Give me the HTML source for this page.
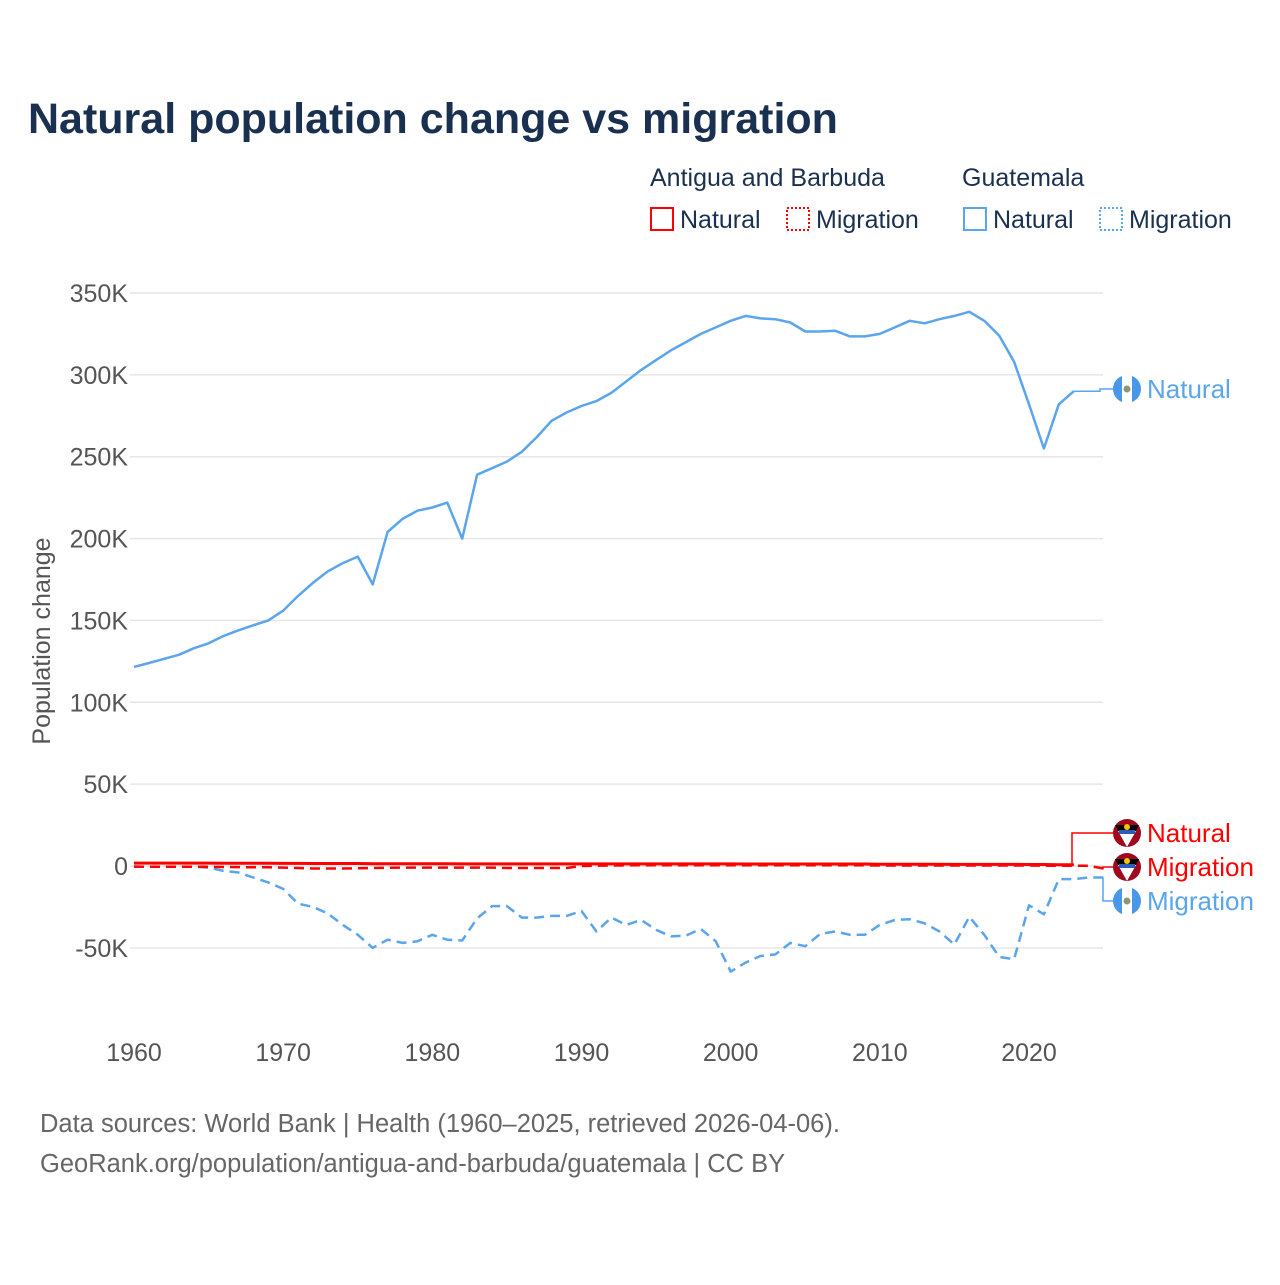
<!DOCTYPE html>
<html><head><meta charset="utf-8"><style>
body{margin:0;background:#fff;}
svg text{font-family:"Liberation Sans",sans-serif;}
</style></head><body>
<svg width="1280" height="1280" viewBox="0 0 1280 1280" xmlns="http://www.w3.org/2000/svg">
<text x="28" y="133" font-size="43" font-weight="bold" fill="#1a3050">Natural population change vs migration</text>
<g font-size="25" fill="#1a3050">
<text x="650" y="186">Antigua and Barbuda</text>
<text x="962" y="186">Guatemala</text>
<g><rect x="651" y="208" width="22" height="22" fill="none" stroke="#f00" stroke-width="2"/><text x="680" y="228">Natural</text></g>
<g><rect x="787" y="208" width="22" height="22" fill="none" stroke="#f00" stroke-width="2" stroke-dasharray="2,2"/><text x="816" y="228">Migration</text></g>
<g><rect x="964" y="208" width="22" height="22" fill="none" stroke="#5aa5ec" stroke-width="2"/><text x="993" y="228">Natural</text></g>
<g><rect x="1100" y="208" width="22" height="22" fill="none" stroke="#5aa5ec" stroke-width="2" stroke-dasharray="2,2"/><text x="1129" y="228">Migration</text></g>
</g>
<g id="grid"></g>
<g id="yticks" font-size="25" fill="#555" text-anchor="end"></g>
<g id="xticks" font-size="25" fill="#555" text-anchor="middle"></g>
<text transform="translate(50,641) rotate(-90)" font-size="25" fill="#555" text-anchor="middle">Population change</text>
<g id="series"></g>
<g id="labels"></g>
<text x="40" y="1132" font-size="25.5" fill="#666">Data sources: World Bank | Health (1960–2025, retrieved 2026-04-06).</text>
<text x="40" y="1172" font-size="25.5" fill="#666">GeoRank.org/population/antigua-and-barbuda/guatemala | CC BY</text>
</svg>
<script>
const years=[];for(let y=1960;y<=2025;y++)years.push(y);
const yTicks=[-50,0,50,100,150,200,250,300,350];
const yTickLabels=["-50K","0","50K","100K","150K","200K","250K","300K","350K"];
const xTicks=[1960,1970,1980,1990,2000,2010,2020];
const gtmNatural=[121.6,124,126.5,129,133,136,140.5,144,147,150,156,165,173,180,185,189,172,204,212,217,219,222,200,239,243,247,253,262,272,277,281,284,289,296,303,309,315,320,325,329,333,336,334.5,334,332,326.5,326.5,327,323.5,323.5,325,329,333,331.5,334,336,338.5,333,324,308,282,255,282,290];
const gtmMigration=[-0.5,-0.5,-0.5,-0.5,-0.5,-1,-3,-4,-7,-10,-14,-23,-25,-29,-36,-42,-50,-45,-47,-46,-42,-45,-45.5,-32,-24.5,-24.5,-31.5,-31.5,-30.5,-30.5,-27.5,-40,-31.5,-36,-33,-39,-43,-42.5,-38.5,-46,-64.5,-59,-55,-54,-47,-49,-41.5,-40,-42,-42,-36,-33,-32.5,-35,-40,-48,-31,-42,-55.5,-57,-24,-29.5,-8,-8,-7,-7];
const atgNatural=[1.8,1.8,1.8,1.8,1.8,1.8,1.7,1.7,1.7,1.7,1.6,1.6,1.5,1.5,1.5,1.5,1.4,1.4,1.4,1.4,1.4,1.4,1.3,1.3,1.3,1.3,1.3,1.3,1.3,1.3,1.3,1.3,1.3,1.3,1.3,1.3,1.3,1.3,1.3,1.3,1.3,1.2,1.2,1.2,1.2,1.2,1.2,1.2,1.2,1.2,1.1,1.1,1.1,1.1,1.1,1.0,1.0,1.0,1.0,1.0,0.9,0.9,0.8,0.8];
const atgMigration=[-0.3,-0.5,-0.5,-0.5,-0.5,-0.5,-0.6,-0.7,-0.8,-0.8,-1,-1.2,-1.5,-1.5,-1.5,-1.4,-1.2,-1.1,-1,-1,-1,-1,-1,-1,-1,-1.2,-1.2,-1.2,-1.2,-1.2,0,0.2,0.3,0.4,0.5,0.5,0.5,0.5,0.5,0.5,0.5,0.5,0.4,0.4,0.4,0.4,0.4,0.4,0.4,0.4,0.3,0.3,0.3,0.3,0.3,0.3,0.3,0.3,0.3,0.3,0.3,0.2,0.2,0.2,0.1,-1.5];
const NS="http://www.w3.org/2000/svg";
const X0=134,X1=1029,Y0=866,Y350=293;
const xs=y=>X0+(y-1960)*(X1-X0)/60;
const ys=v=>Y0-(v)*(Y0-Y350)/350;
function mk(t,a,p){const e=document.createElementNS(NS,t);for(const k in a)e.setAttribute(k,a[k]);p.appendChild(e);return e;}
const grid=document.getElementById('grid'),yt=document.getElementById('yticks'),xt=document.getElementById('xticks');
yTicks.forEach((v,i)=>{
 const l=mk('line',{x1:130,x2:1103,y1:ys(v),y2:ys(v),stroke:'#e6e6e6','stroke-width':1.5},grid);
 
 
 const t=mk('text',{x:128,y:ys(v)+9},yt);t.textContent=yTickLabels[i];
 
 
});
xTicks.forEach(v=>{const t=mk('text',{x:xs(v),y:1061},xt);t.textContent=v;
 
 });
const ser=document.getElementById('series');
function line(arr,color,dash,name,w){
 const d=arr.map((v,i)=>(i?'L':'M')+xs(years[i]).toFixed(1)+','+ys(v).toFixed(1)).join('');
 const p=mk('path',{d:d,fill:'none',stroke:color,'stroke-width':w,'stroke-linejoin':'round'},ser);
 if(dash)p.setAttribute('stroke-dasharray',dash);
 
 
 return p;
}
line(gtmMigration,'#5aa5ec','10,6','line-guatemala-migration',2.5);
line(gtmNatural,'#5aa5ec',null,'line-guatemala-natural',2.5);
line(atgMigration,'#f00','10,6','line-antigua-migration',2.5);
line(atgNatural,'#f00',null,'line-antigua-natural',3);
const lab=document.getElementById('labels');
function endLabel(lastX,lastY,stepX,ly,color,text,flag,name){
 const c=mk('path',{d:`M${lastX},${lastY}H${stepX}V${ly}H1113`,fill:'none',stroke:color,'stroke-width':1.5},lab);
 
 
 const g=mk('g',{},lab);
 
 
 if(flag==='gt'){
  mk('circle',{cx:1127,cy:ly,r:14,fill:'#4997e8'},g);
  mk('rect',{x:1122,y:ly-14,width:10,height:28,fill:'#fff'},g);
  mk('circle',{cx:1127,cy:ly,r:3.5,fill:'#8a9a70'},g);
 }else{
  mk('circle',{cx:1127,cy:ly,r:14,fill:'#a0081e'},g);
  mk('path',{d:`M1115,${ly-8}L1139,${ly-8}L1127,${ly+14}Z`,fill:'#000'},g);
  mk('path',{d:`M1118,${ly-2}L1136,${ly-2}L1127,${ly+14}Z`,fill:'#fff'},g);
  mk('rect',{x:1119,y:ly-3,width:16,height:4,fill:'#2a5cc0'},g);
  mk('circle',{cx:1127,cy:ly-6,r:3,fill:'#f5c400'},g);
 }
 const t=mk('text',{x:1147,y:ly+9,'font-size':26,fill:color},lab);t.textContent=text;
 
 
}
const n=gtmNatural.length-1;
endLabel(xs(years[n]),ys(gtmNatural[n]),1100,389,'#5aa5ec','Natural','gt','label-guatemala-natural');
const a=atgNatural.length-1;
endLabel(xs(years[a]),ys(atgNatural[a]),1072,833,'#f00','Natural','ag','label-antigua-natural');
const m=atgMigration.length-1;
endLabel(xs(years[m]),ys(atgMigration[m]),1103,867,'#f00','Migration','ag','label-antigua-migration');
const g2=gtmMigration.length-1;
endLabel(xs(years[g2]),ys(gtmMigration[g2]),1103,901,'#5aa5ec','Migration','gt','label-guatemala-migration');
</script>
</body></html>
